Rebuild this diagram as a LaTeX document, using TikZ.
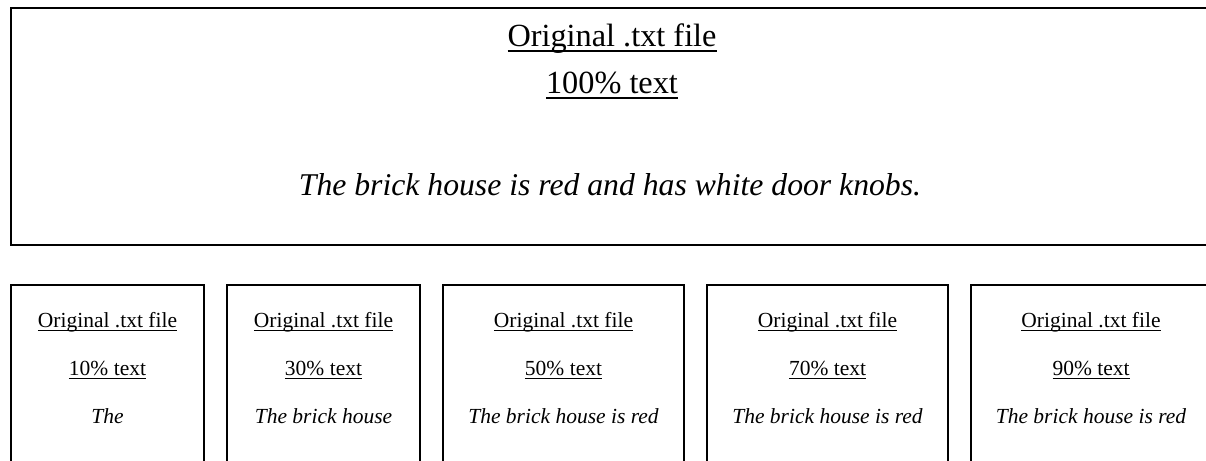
\documentclass[tikz,border=0pt]{standalone}
\usepackage{fontspec}
\setmainfont{Liberation Serif}
\newcommand\ulx[1]{\setbox0\hbox{#1}\rlap{\rule[-0.19em]{\wd0}{0.055em}}\box0}
\tikzset{
  frame/.style={draw=black, line width=1.8pt, inner sep=0pt, outer sep=0pt},
  bigtxt/.style={anchor=base, inner sep=0pt, font=\fontsize{32.3}{38}\selectfont},
  smalltxt/.style={anchor=base, inner sep=0pt, font=\fontsize{21.5}{26}\selectfont},
}
\begin{document}
\begin{tikzpicture}[x=1pt,y=-1pt]
\useasboundingbox (0,0) rectangle (1206,460);
\clip (0,0) rectangle (1206,460);
% top box
\node[frame, minimum width=1202pt, minimum height=237pt] (top) at (612,126.5) {};
\node[bigtxt] (topA) at (612,46) {\ulx{Original .txt file}};
\node[bigtxt] (topB) at (612,93) {\ulx{100\% text}};
\node[bigtxt, font=\fontsize{31.7}{38}\selectfont\itshape] (topC) at (610,195) {The brick house is red and has white door knobs.};
% bottom boxes
\foreach \n/\cx/\w/\p/\s in {
  1/107.5/193/10/The,
  2/323.5/193/30/The brick house,
  3/563.5/241/50/The brick house is red,
  4/827.5/241/70/The brick house is red,
  5/1091/240/90/The brick house is red}{
  \node[frame, minimum width=\w pt, minimum height=210pt] (box\n) at (\cx,390) {};
  \node[smalltxt] (title\n) at (\cx,327) {\ulx{Original .txt file}};
  \node[smalltxt] (pct\n) at (\cx,375) {\ulx{\p\% text}};
  \node[smalltxt] (body\n) at (\cx,423) {\itshape \s};
}
\end{tikzpicture}
\end{document}
